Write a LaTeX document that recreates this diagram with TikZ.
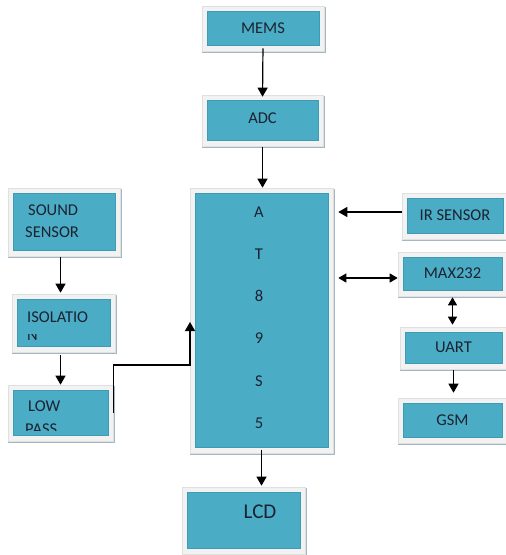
\documentclass[tikz,border=0pt]{standalone}
\usepackage{fontspec}
\setmainfont{Carlito}
\usetikzlibrary{arrows.meta,fit,calc}
\definecolor{boxc}{HTML}{4BACC6}
\definecolor{boxedge}{HTML}{3F9AB3}
\definecolor{framec}{HTML}{F2F2F2}
\definecolor{frameedge}{HTML}{E0E0E0}
\definecolor{shadc}{HTML}{A3B8C3}
\definecolor{txtc}{HTML}{1C2230}
\tikzset{
  blk/.style={draw=boxedge, fill=boxc, inner sep=0pt, line width=0.6pt},
  txt/.style={font=\fontsize{16.5}{20}\selectfont, text=txtc, inner sep=0pt},
  arr/.style={line width=1.2pt, draw=black, -{Triangle[width=10pt,length=9pt]}},
  darr/.style={line width=1.2pt, draw=black, {Triangle[width=9pt,length=8pt]}-{Triangle[width=9pt,length=8pt]}},
}
\newcommand\blk[6]{%
  \fill[shadc] (#2-5,#5+6) rectangle (#4+7,#5+8);
  \fill[shadc] (#4+5,#3-4) rectangle (#4+7,#5+8);
  \filldraw[fill=framec,draw=frameedge,line width=0.4pt] (#2-5,#3-5) rectangle (#4+5,#5+6);
  \node[blk,fit={(#2,#3) (#4,#5)}] (#1) {};
  \node[txt] (#1t) at (#1.center) {#6};}
\begin{document}
\begin{tikzpicture}[x=1pt,y=-1pt]
\useasboundingbox[fill=white] (0,0) rectangle (506,555);
% blocks
\blk{mems}{207}{11}{319}{45}{MEMS}
\blk{adc}{207}{100}{318}{140}{\raisebox{3pt}{ADC}}
\blk{at}{195}{193}{328}{447}{}
\blk{lcd}{187}{492}{300}{548}{}
\blk{sound}{13}{193}{115}{250}{}
\blk{iso}{17}{299}{110}{346}{}
\blk{low}{13}{390}{108}{435}{}
\blk{ir}{407}{198}{503}{233}{IR SENSOR}
\blk{max}{403}{257}{502}{290}{MAX232}
\blk{uart}{405}{332}{502}{363}{UART}
\blk{gsm}{403}{403}{502}{437}{GSM}
% texts
\foreach \c [count=\i] in {A,T,8,9,S,5}
  \node[txt] (at\i) at (259,{212+42.2*(\i-1)}) {\c};
\node[txt,font=\fontsize{21}{25}\selectfont] (lcdt) at (260,512) {LCD};
\node[txt,anchor=west] (soundt1) at (28,210) {SOUND};
\node[txt,anchor=west] (soundt2) at (25,232) {SENSOR};
\node[txt,anchor=west] (isot1) at (27,317) {ISOLATIO};
\begin{scope}
  \clip (17,334) rectangle (110,346);
  \node[txt,anchor=west] (isot2) at (27,335.5) {N};
\end{scope}
\node[txt,anchor=west] (lowt1) at (28,406.5) {LOW};
\begin{scope}
  \clip (13,390) rectangle (108,430);
  \node[txt,anchor=west] (lowt2) at (25,429.5) {PASS};
\end{scope}
% connectors
\draw[arr, shorten <=3pt, shorten >=3pt] (mems.south) -- (adc.north);
\draw[arr, shorten <=7pt, shorten >=5pt] (adc.south) -- (adc.south |- at.north);
\draw[arr, shorten <=3pt, shorten >=6pt] (at.south) -- (at.south |- lcd.north);
\draw[arr, shorten <=7pt, shorten >=6pt] (sound.south -| low.north) -- (iso.north -| low.north);
\draw[arr, shorten <=9pt, shorten >=5pt] (iso.south -| low.north) -- (low.north);
\coordinate (lpout) at ($(low.east)+(5,0)$);
\coordinate (jog) at (190,365);
\coordinate (atin) at (190,322);
\draw[arr] (lpout) |- (jog) -- (atin);
\draw[arr] ($(ir.west)+(-5,-3.5)$) -- ($(at.east |- ir.west)+(10,-3.5)$);
\draw[darr] ($(max.west)+(-5,4.5)$) -- ($(at.east |- max.west)+(10,4.5)$);
\draw[darr, shorten <=7pt, shorten >=7pt] (max.south) -- (max.south |- uart.north);
\draw[arr, shorten <=7pt, shorten >=10pt] (uart.south) -- (uart.south |- gsm.north);
\end{tikzpicture}
\end{document}
